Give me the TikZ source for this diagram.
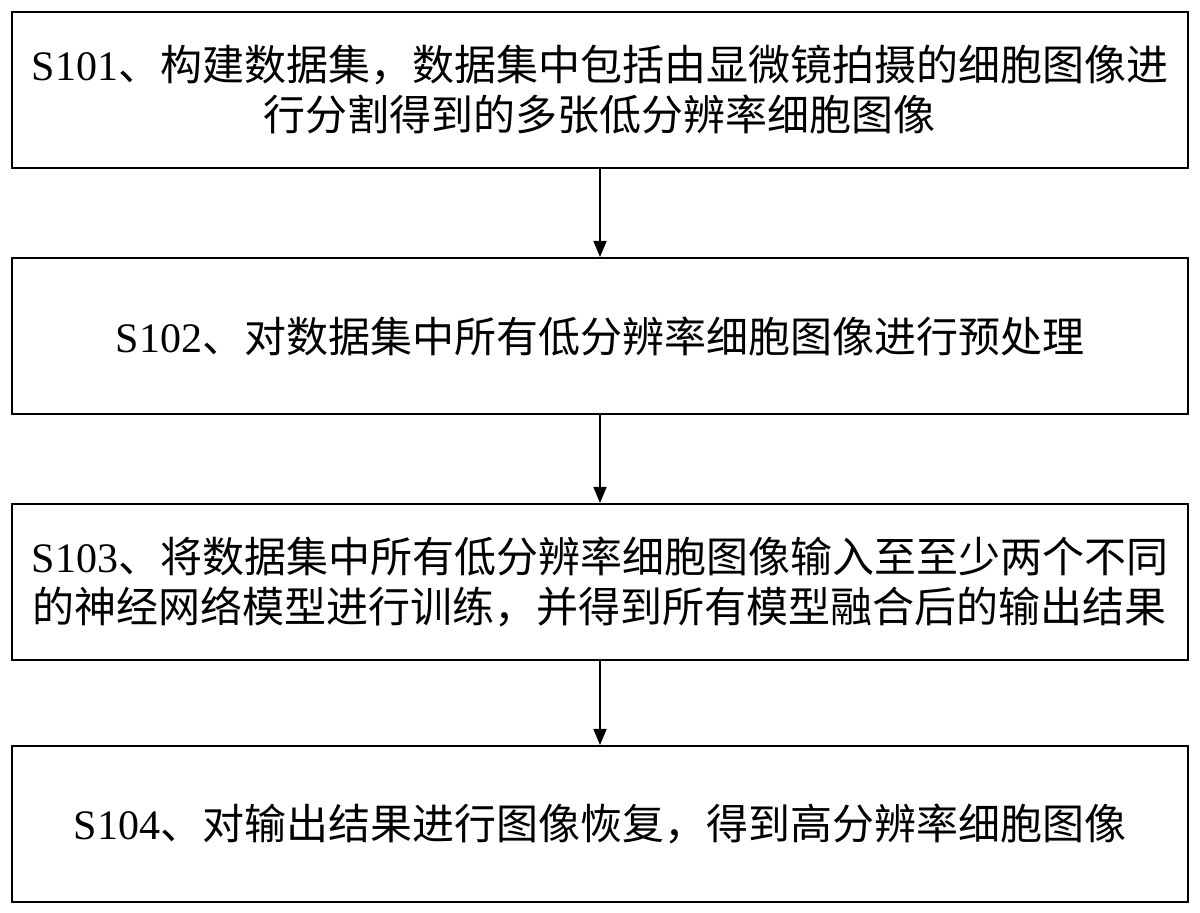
\documentclass[tikz,border=0pt]{standalone}
\usepackage{fontspec}
\setmainfont{Liberation Serif}
\newfontfamily\cjk{Noto Sans CJK SC}
\usetikzlibrary{arrows.meta}
\newcommand{\stepno}[1]{{\rmfamily #1}}

\begin{document}
\begin{tikzpicture}[x=0.5pt,y=-0.5pt,
    stepbox/.style={draw,line width=1pt,minimum width=588pt,minimum height=78pt,
      inner sep=0pt,align=center,font=\cjk\fontsize{21}{25}\selectfont},
    flow/.style={-{Triangle[length=8pt,width=6.5pt]},line width=0.8pt}]
  \useasboundingbox (0,0) rectangle (1200,913);

  \node[stepbox] (s101) at (600,90) {\stepno{S101}、构建数据集，数据集中包括由显微镜拍摄的细胞图像进\\行分割得到的多张低分辨率细胞图像};
  \node[stepbox] (s102) at (600,336) {\stepno{S102}、对数据集中所有低分辨率细胞图像进行预处理};
  \node[stepbox] (s103) at (600,582) {\stepno{S103}、将数据集中所有低分辨率细胞图像输入至至少两个不同\\的神经网络模型进行训练，并得到所有模型融合后的输出结果};
  \node[stepbox] (s104) at (600,824) {\stepno{S104}、对输出结果进行图像恢复，得到高分辨率细胞图像};

  \draw[flow] (s101) -- (s102);
  \draw[flow] (s102) -- (s103);
  \draw[flow] (s103) -- (s104);
\end{tikzpicture}
\end{document}
